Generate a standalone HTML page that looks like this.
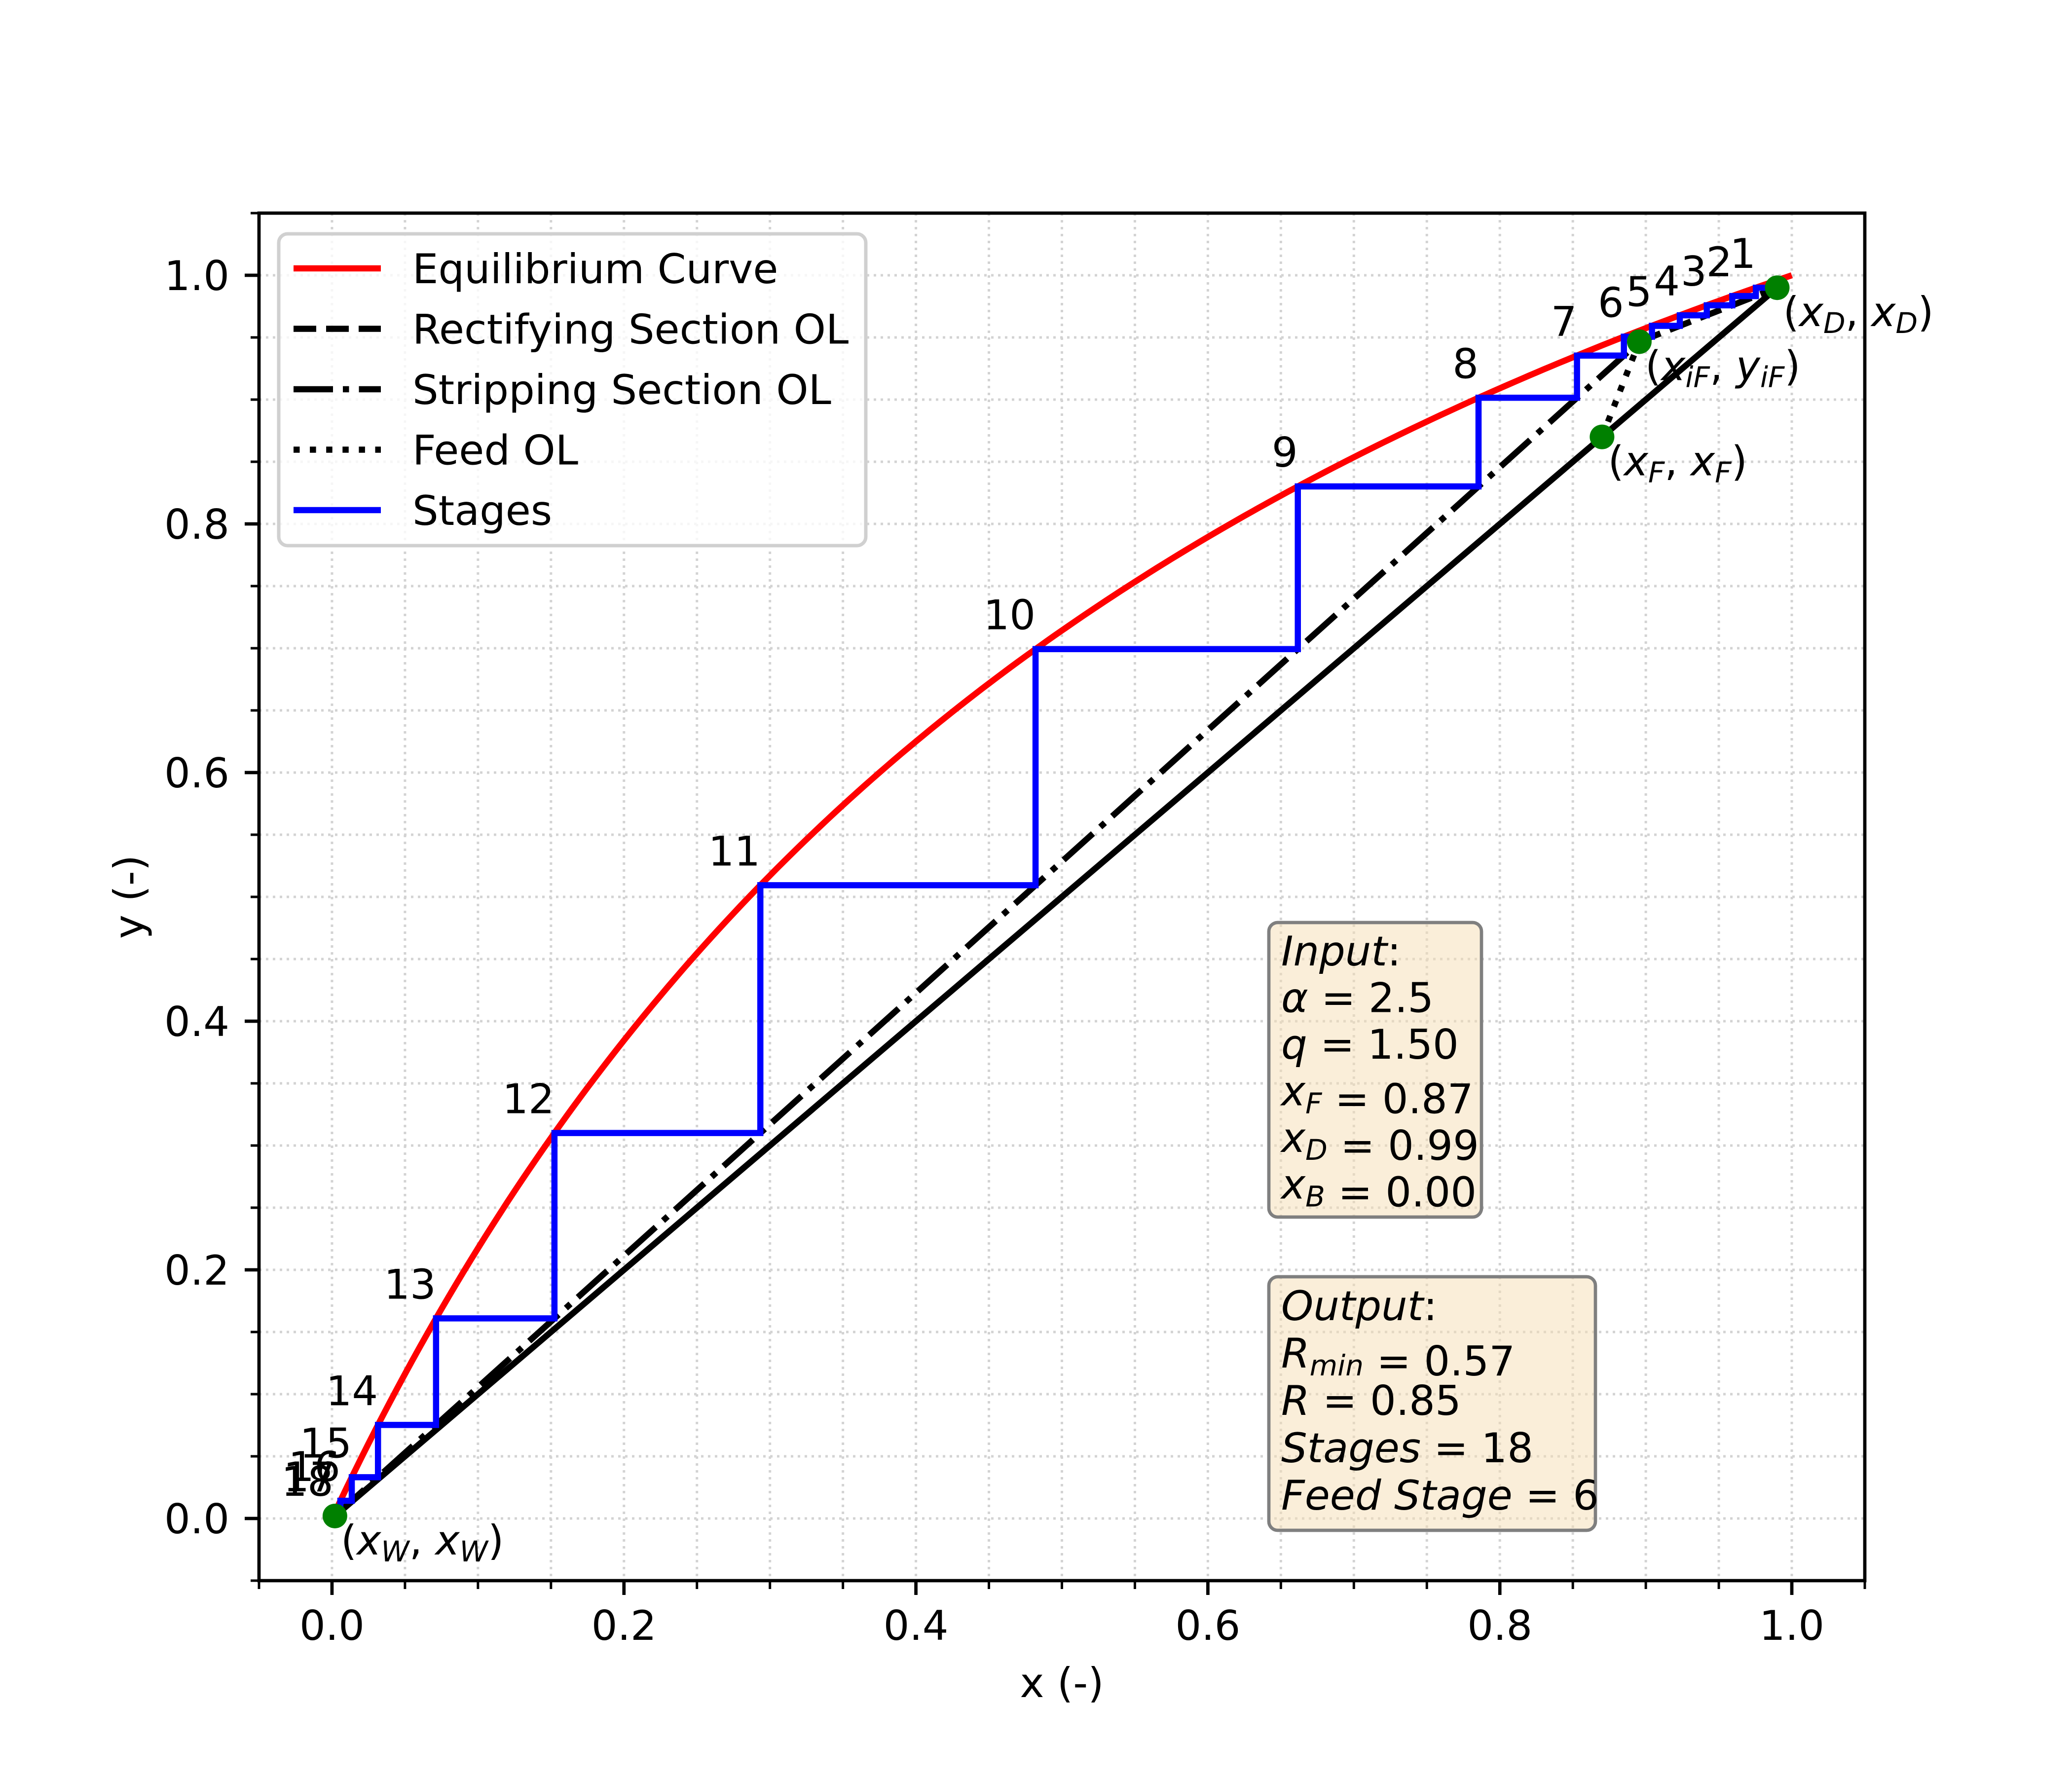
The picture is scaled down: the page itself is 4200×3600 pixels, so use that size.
<!DOCTYPE html>
<html><head><meta charset="utf-8"><style>
html,body{margin:0;padding:0;background:#fff;}
svg{display:block;font-family:"DejaVu Sans","Liberation Sans",sans-serif;}
</style></head><body>
<svg id="chart" width="4200" height="3600" viewBox="0 0 4200 3600" xmlns="http://www.w3.org/2000/svg">
<rect width="4200" height="3600" fill="#fff"/>
<g id="grid"></g>
<g id="series"></g>
<g id="axes"></g>
<g id="legend"></g>
<g id="boxes"></g>
</svg>
<script>
const alphaVals = [2.5];
const qVals = [1.5];
const feedComp = [0.87];
const distComp = [0.99];
const bottomComp = [0.002];
const refluxVals = [0.85];
const rminVals = [0.57];
const xTicks = [0.0, 0.2, 0.4, 0.6, 0.8, 1.0];
const yTicks = [0.0, 0.2, 0.4, 0.6, 0.8, 1.0];
const xTickLabels = ["0.0","0.2","0.4","0.6","0.8","1.0"];
const yTickLabels = ["0.0","0.2","0.4","0.6","0.8","1.0"];
const minorStep = [0.05];
const xLim = [-0.05, 1.05];
const yLim = [-0.05, 1.05];

const NS = "http://www.w3.org/2000/svg";
const L = 525, R = 3780, T = 432, B = 3204;
function sx(v){ return L + (v - xLim[0]) / (xLim[1] - xLim[0]) * (R - L); }
function sy(v){ return B - (v - yLim[0]) / (yLim[1] - yLim[0]) * (B - T); }
function mk(tag, attrs, parent){
  const e = document.createElementNS(NS, tag);
  for (const k in attrs) e.setAttribute(k, attrs[k]);
  parent.appendChild(e); return e;
}
const alpha = alphaVals[0], q = qVals[0], xF = feedComp[0], xD = distComp[0], xB = bottomComp[0], Rr = refluxVals[0];
const eqY = x => alpha * x / (1 + (alpha - 1) * x);
const eqX = y => y / (alpha - (alpha - 1) * y);
const rect = x => Rr / (Rr + 1) * x + xD / (Rr + 1);
const xiF = (xD / (Rr + 1) + xF / (q - 1)) / (q / (q - 1) - Rr / (Rr + 1));
const yiF = rect(xiF);
const strip = x => xB + (yiF - xB) / (xiF - xB) * (x - xB);

// grid
const grid = document.getElementById('grid');
const step = minorStep[0];
for (let i = 0; i <= 20; i++) {
  const v = i * step;
  const gx = mk('line', {x1: sx(v), x2: sx(v), y1: T, y2: B, stroke: '#d3d3d3', 'stroke-width': 5, 'stroke-dasharray': '5,9'}, grid);
  
  
  const gy = mk('line', {x1: L, x2: R, y1: sy(v), y2: sy(v), stroke: '#d3d3d3', 'stroke-width': 5, 'stroke-dasharray': '5,9'}, grid);
  
  
}

const S = document.getElementById('series');
// equilibrium curve
let d = '';
for (let i = 0; i <= 200; i++) { const x = i / 200; d += (i ? 'L' : 'M') + sx(x).toFixed(1) + ',' + sy(eqY(x)).toFixed(1); }
const eq = mk('path', {d: d, fill: 'none', stroke: '#ff0000', 'stroke-width': 12.5}, S);


// diagonal
const diag = mk('line', {x1: sx(xB), y1: sy(xB), x2: sx(xD), y2: sy(xD), stroke: '#000', 'stroke-width': 12.5}, S);


// rectifying
const rl = mk('line', {x1: sx(xiF), y1: sy(yiF), x2: sx(xD), y2: sy(xD), stroke: '#000', 'stroke-width': 12.5, 'stroke-dasharray': '46,20'}, S);


// stripping
const sl = mk('line', {x1: sx(xB), y1: sy(xB), x2: sx(xiF), y2: sy(yiF), stroke: '#000', 'stroke-width': 12.5, 'stroke-dasharray': '80,20,12.5,20'}, S);


// feed
const fl = mk('line', {x1: sx(xF), y1: sy(xF), x2: sx(xiF), y2: sy(yiF), stroke: '#000', 'stroke-width': 12.5, 'stroke-dasharray': '12.5,20.6'}, S);



// stages
let x = xD, y = xD, n = 0, feedStage = null;
let sd = 'M' + sx(x) + ',' + sy(y);
const labels = [];
while (n < 60) {
  n++;
  const xe = eqX(y);
  sd += 'L' + sx(xe) + ',' + sy(y);
  labels.push([xe, y, n]);
  if (feedStage === null && xe < xiF) feedStage = n;
  const yn = xe > xiF ? rect(xe) : strip(xe);
  sd += 'L' + sx(xe) + ',' + sy(Math.max(yn, xe));
  if (xe <= xB) break;
  x = xe; y = yn;
}
const stages = mk('path', {d: sd, fill: 'none', stroke: '#0000ff', 'stroke-width': 12.5}, S);


labels.forEach(l => {
  const t = mk('text', {x: sx(l[0]), y: sy(l[1]) - 40, 'font-size': 83, 'text-anchor': 'end', fill: '#000'}, S);
  t.textContent = l[2];
  
  
});
// points
const pts = [[xB, xB, 'W', 'x', 'x'], [xF, xF, 'F', 'x', 'x'], [xiF, yiF, 'iF', 'x', 'y'], [xD, xD, 'D', 'x', 'x']];
pts.forEach(p => {
  const c = mk('circle', {cx: sx(p[0]), cy: sy(p[1]), r: 25, fill: '#008000'}, S);
  
  
  const t = mk('text', {x: sx(p[0]) + 12, y: sy(p[1]) + 78, 'font-size': 83, fill: '#000'}, S);
  t.innerHTML = '(<tspan font-style="italic">' + p[3] + '</tspan><tspan font-style="italic" font-size="58" dy="14">' + p[2] + '</tspan><tspan dy="-14">, </tspan><tspan font-style="italic">' + p[4] + '</tspan><tspan font-style="italic" font-size="58" dy="14">' + p[2] + '</tspan><tspan dy="-14">)</tspan>';
  
  
});

// axes
const A = document.getElementById('axes');
const frame = mk('rect', {x: L, y: T, width: R - L, height: B - T, fill: 'none', stroke: '#000', 'stroke-width': 6.7}, A);


for (let i = -1; i <= 21; i++) {
  const v = i * step;
  if (v < xLim[0] - 1e-9 || v > xLim[1] + 1e-9) continue;
  const mj = Math.abs(v / 0.2 - Math.round(v / 0.2)) < 1e-6;
  const len = mj ? 29 : 17, w = mj ? 6.7 : 5;
  const tx = mk('line', {x1: sx(v), x2: sx(v), y1: B, y2: B + len, stroke: '#000', 'stroke-width': w}, A);
  
  
  const ty = mk('line', {x1: L, x2: L - len, y1: sy(v), y2: sy(v), stroke: '#000', 'stroke-width': w}, A);
  
  
}
xTicks.forEach((v, i) => {
  const t = mk('text', {x: sx(v), y: B + 120, 'font-size': 83, 'text-anchor': 'middle'}, A);
  t.textContent = xTickLabels[i];
  
  
});
yTicks.forEach((v, i) => {
  const t = mk('text', {x: L - 60, y: sy(v) + 30, 'font-size': 83, 'text-anchor': 'end'}, A);
  t.textContent = yTickLabels[i];
  
  
});
const xl = mk('text', {x: (L + R) / 2, y: 3440, 'font-size': 83, 'text-anchor': 'middle'}, A);
xl.textContent = 'x (-)';


const yl = mk('text', {x: 0, y: 0, 'font-size': 83, 'text-anchor': 'middle', transform: 'translate(290,' + (T + B) / 2 + ') rotate(-90)'}, A);
yl.textContent = 'y (-)';



// legend
const G = document.getElementById('legend');
const lb = mk('rect', {x: 565, y: 474, width: 1190, height: 632, rx: 18, fill: '#fff', 'fill-opacity': 0.8, stroke: '#d0d0d0', 'stroke-width': 7}, G);


const leg = [['Equilibrium Curve', '#ff0000', ''], ['Rectifying Section OL', '#000', '46,20'], ['Stripping Section OL', '#000', '80,20,12.5,20'], ['Feed OL', '#000', '12.5,20.6'], ['Stages', '#0000ff', '']];
leg.forEach((e, i) => {
  const yy = 544 + i * 122.5;
  const ln = mk('line', {x1: 595, x2: 772, y1: yy, y2: yy, stroke: e[1], 'stroke-width': 12.5}, G);
  if (e[2]) ln.setAttribute('stroke-dasharray', e[2]);
  
  
  const t = mk('text', {x: 836, y: yy + 30, 'font-size': 83}, G);
  t.textContent = e[0];
  
  
});

// info boxes
const BX = document.getElementById('boxes');
function box(x0, y0, w, h, name){
  const r = mk('rect', {x: x0, y: y0, width: w, height: h, rx: 18, fill: '#f5deb3', 'fill-opacity': 0.5, stroke: '#7f7f7f', 'stroke-width': 6.7}, BX);
  
  
}
function line(x0, yb, html, name){
  const t = mk('text', {x: x0, y: yb, 'font-size': 83}, BX);
  t.innerHTML = html;
  
  
}
const it = s => '<tspan font-style="italic">' + s + '</tspan>';
const sub = s => '<tspan font-style="italic" font-size="58" dy="16">' + s + '</tspan><tspan dy="-16"></tspan>';
box(2572, 1870, 431, 597, 'input-box');
const inRows = [
  it('Input') + ':',
  it('α') + ' = ' + alpha.toFixed(1),
  it('q') + ' = ' + q.toFixed(2),
  it('x') + sub('F') + ' = ' + xF.toFixed(2),
  it('x') + sub('D') + ' = ' + xD.toFixed(2),
  it('x') + sub('B') + ' = ' + xB.toFixed(2)
];
inRows.forEach((h, i) => line(2597, 1957 + i * 94.5, h, 'input-line'));
box(2572, 2588, 662, 514, 'output-box');
const outRows = [
  it('Output') + ':',
  it('R') + sub('min') + ' = ' + rminVals[0].toFixed(2),
  it('R') + ' = ' + Rr.toFixed(2),
  it('Stages') + ' = ' + n,
  it('Feed Stage') + ' = ' + feedStage
];
outRows.forEach((h, i) => line(2597, 2676 + i * 96, h, 'output-line'));
</script>
</body></html>
